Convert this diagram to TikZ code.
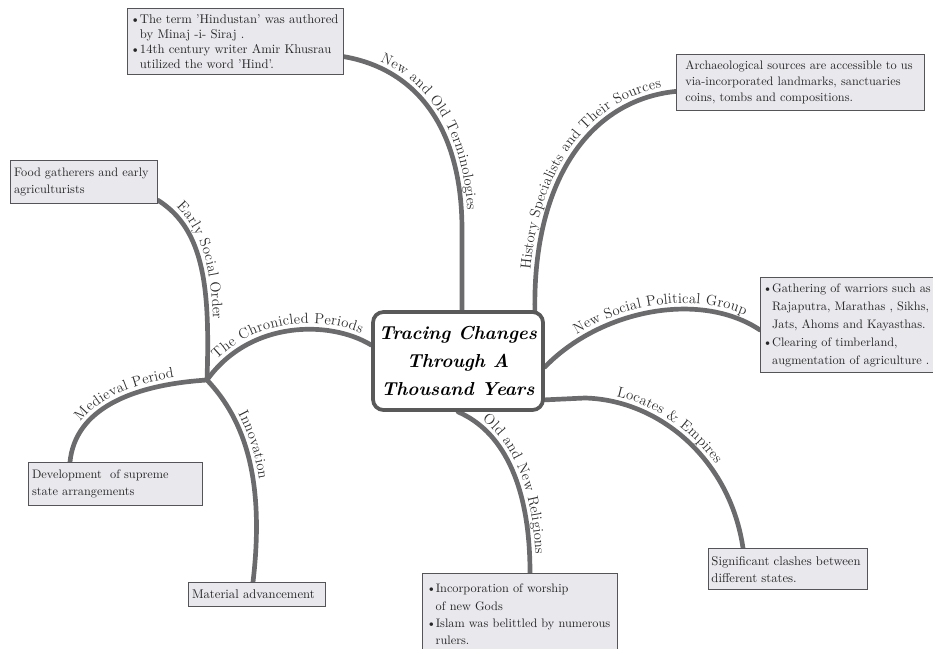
\documentclass[tikz,border=0pt]{standalone}
\usepackage{tikz}
\usetikzlibrary{calc,backgrounds,decorations.text}

\definecolor{branchgray}{rgb}{0.42,0.42,0.43}
\definecolor{leaffill}{rgb}{0.91,0.91,0.93}
\definecolor{leafdraw}{rgb}{0.33,0.33,0.35}
\definecolor{labelcolor}{rgb}{0.18,0.18,0.18}
\newcommand{\lblfont}{\fontsize{12.5}{14}\selectfont\color{labelcolor}}
\newcommand{\itm}{\makebox[0.75em][l]{\textbullet}}
\newcommand{\ind}{\hspace*{0.75em}}
\newcommand{\spread}[2]{\makebox[\dimexpr\linewidth-#1\relax][s]{#2}}

\begin{document}
\begin{tikzpicture}[x=0.03cm, y=-0.03cm,
    leaf/.style={draw=leafdraw, fill=leaffill, line width=0.9pt, inner xsep=3pt, inner ysep=6.5pt, anchor=north west, align=left, font=\fontsize{10.8}{14.5}\selectfont, text=black!85},
    root/.style={draw=black!65, fill=white, line width=3.2pt, rounded corners=9pt, minimum width=5.1cm, minimum height=2.94cm, align=center, font=\fontsize{16}{24}\selectfont\bfseries\itshape},
    branch/.style={draw=branchgray, line width=4pt, line cap=round}
  ]
  \useasboundingbox (0,0) rectangle (933,648);
  \clip (0,0) rectangle (933,648);

  % centre
  \node[root] (root) at (458,361) {Tracing Changes\\Through A\\Thousand Years};

  % leaves
  \node[leaf, text width=6.3cm, inner xsep=2.5pt, inner ysep=5pt, font=\fontsize{10.8}{12.8}\selectfont] (term) at (127,8) {\itm The term 'Hindustan' was authored\\\ind by Minaj -i- Siraj .\\\itm 14th century writer Amir Khusrau\\\ind utilized the word 'Hind'.};
  \node[leaf, text width=6.9cm, inner xsep=7.5pt, inner ysep=5pt, font=\fontsize{10.5}{14}\selectfont] (hist) at (676,54) {\spread{0pt}{Archaeological sources are accessible to us}\\\spread{0pt}{via-incorporated landmarks, sanctuaries}\\coins, tombs and compositions.};
  \node[leaf, text width=5.6cm, inner xsep=2pt, inner ysep=5pt, font=\fontsize{10.5}{15.4}\selectfont] (polit) at (760,277) {\itm\spread{0.75em}{Gathering of warriors such as}\\\ind\spread{0.75em}{Rajaputra, Marathas , Sikhs,}\\\ind Jats, Ahoms and Kayasthas.\\\itm\spread{0.75em}{Clearing of timberland,}\\\ind\spread{0.75em}{augmentation of agriculture .}};
  \node[leaf, text width=4.2cm, font=\fontsize{10.5}{14.5}\selectfont] (food) at (10,160) {Food gatherers and early\\agriculturists};
  \node[leaf, text width=5cm, font=\fontsize{10.5}{14.5}\selectfont] (medi) at (28,462) {Development\ \ of supreme\\state arrangements};
  \node[leaf, text width=3.9cm] (mat) at (188,582) {Material advancement};
  \node[leaf, text width=5.6cm, inner xsep=3.4pt, inner ysep=9pt, font=\fontsize{10.5}{14.8}\selectfont] (reli) at (422,573) {\itm Incorporation of worship\\\ind of new Gods\\\itm Islam was belittled by numerous\\\ind rulers.};
  \node[leaf, text width=4.6cm, inner xsep=2.5pt] (clash) at (708,548) {Significant clashes between\\different states.};

  \coordinate (hub) at (207,380);

  % branches
  \begin{pgfonlayer}{background}
    \draw[branch, postaction={decorate, decoration={text along path, raise=5pt, text align={left indent=30pt}, text={|\lblfont|New and Old Terminologies}}}]
      ($(term.south east)+(0,-18)$) .. controls (410,68) and (462,120) .. (462,230) -- ($(root.north)+(4,0)$);
    \draw[branch, postaction={decorate, decoration={text along path, raise=5pt, text align={left indent=34pt}, text={|\lblfont|History Specialists and Their Sources}}}]
      ($(root.north east)+(-10,0)$) .. controls (533,180) and (590,100) .. ($(hist.west)+(0,9)$);
    \draw[branch, postaction={decorate, decoration={text along path, raise=5pt, text align={left indent=38pt}, text={|\lblfont|New Social Political Group}}}]
      ($(root.east)+(0,6)$) .. controls (600,310) and (700,290) .. ($(polit.north west)+(0,53)$);
    \draw[branch, postaction={decorate, decoration={text along path, raise=5pt, text align={left indent=60pt}, text={|\lblfont|Locates {\&} Empires}}}]
      ($(root.south east)+(0,-12)$) -- (585,398) .. controls (660,400) and (730,460) .. ($(clash.north west)+(35,0)$);
    \draw[branch, postaction={decorate, decoration={text along path, raise=5pt, text align={left indent=20pt}, text={|\lblfont|Old and New Religions}}}]
      (root.south) .. controls (500,430) and (530,480) .. ($(reli.north west)+(108,0)$);
    \draw[branch, postaction={decorate, decoration={text along path, raise=5pt, text align={left indent=18pt}, text={|\lblfont|The Chronicled Periods}}}]
      (hub) .. controls (250,320) and (330,320) .. ($(root.west)+(0,-16)$);
    \draw[branch, postaction={decorate, decoration={text along path, raise=5pt, text align={left indent=15pt}, text={|\lblfont|Early Social Order}}}]
      ($(food.south east)+(0,-4)$) .. controls (205,230) and (210,290) .. (hub);
    \draw[branch, postaction={decorate, decoration={text along path, raise=5pt, text align={left indent=34pt}, text={|\lblfont|Medieval Period}}}]
      ($(medi.north west)+(42,0)$) .. controls (75,410) and (130,385) .. (hub);
    \draw[branch, postaction={decorate, decoration={text along path, raise=5pt, text align={left indent=38pt}, text={|\lblfont|Innovation}}}]
      (hub) .. controls (245,420) and (265,480) .. ($(mat.north west)+(65,0)$);
  \end{pgfonlayer}
\end{tikzpicture}
\end{document}
